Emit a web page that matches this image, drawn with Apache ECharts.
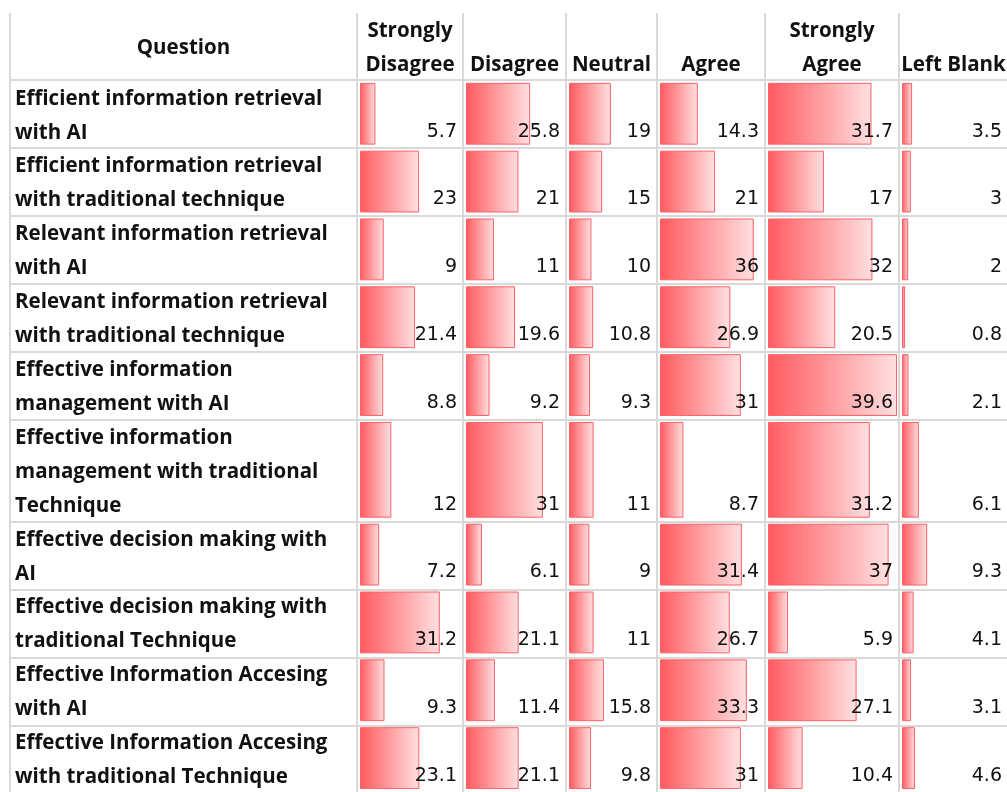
<!DOCTYPE html>
<html>
<head>
<meta charset="utf-8">
<script src="https://cdn.jsdelivr.net/npm/echarts@6/dist/echarts.min.js"></script>
<style>
  html, body { margin: 0; padding: 0; background: #fff; }
  #chart-container { width: 1007px; height: 792px; }
</style>
</head>
<body>
<div id="chart-container"></div>
<script>
// data
var questions = [
  'Efficient information retrieval\nwith AI',
  'Efficient information retrieval\nwith traditional technique',
  'Relevant information retrieval\nwith AI',
  'Relevant information retrieval\nwith traditional technique',
  'Effective information\nmanagement with AI',
  'Effective information\nmanagement with traditional\nTechnique',
  'Effective decision making with\nAI',
  'Effective decision making with\ntraditional Technique',
  'Effective Information Accesing\nwith AI',
  'Effective Information Accesing\nwith traditional Technique'
];
var columnNames = ['Strongly\nDisagree', 'Disagree', 'Neutral', 'Agree', 'Strongly\nAgree', 'Left Blank'];
var stronglyDisagree = [5.7, 23, 9, 21.4, 8.8, 12, 7.2, 31.2, 9.3, 23.1];
var disagree = [25.8, 21, 11, 19.6, 9.2, 31, 6.1, 21.1, 11.4, 21.1];
var neutral = [19, 15, 10, 10.8, 9.3, 11, 9, 11, 15.8, 9.8];
var agree = [14.3, 21, 36, 26.9, 31, 8.7, 31.4, 26.7, 33.3, 31];
var stronglyAgree = [31.7, 17, 32, 20.5, 39.6, 31.2, 37, 5.9, 27.1, 10.4];
var leftBlank = [3.5, 3, 2, 0.8, 2.1, 6.1, 9.3, 4.1, 3.1, 4.6];

var columns = [stronglyDisagree, disagree, neutral, agree, stronglyAgree, leftBlank];

// layout
var LINE = 34, TOP = 12, HEADER_LINES = 2;
var colEdges = [10, 357, 463, 566, 657, 765, 899, 1008];
var textFont = 'bold 20.5px "Open Sans"';
var numFont = '19px "DejaVu Sans"';
var lineColor = '#d9d9d9';

// row line ranges (in text-line units)
var rowStart = [], rowEnd = [];
var acc = HEADER_LINES;
questions.forEach(function (q) {
  rowStart.push(acc);
  acc += q.split('\n').length;
  rowEnd.push(acc);
});
var totalLines = acc;

// one scale for the whole range, like the sheet's data bars
var barMax = Math.max.apply(null, [].concat.apply([], columns));

var dom = document.getElementById('chart-container');
var myChart = echarts.init(dom, null, { renderer: 'canvas' });

var grids = [], xAxes = [], yAxes = [], series = [];

// question column
grids.push({ left: colEdges[0], width: colEdges[1] - colEdges[0], top: TOP, height: totalLines * LINE });
xAxes.push({ type: 'value', gridIndex: 0, min: 0, max: 1, show: false });
yAxes.push({ type: 'value', gridIndex: 0, min: 0, max: totalLines, inverse: true, show: false });
series.push({
  type: 'custom',
  xAxisIndex: 0,
  yAxisIndex: 0,
  clip: false,
  silent: true,
  data: questions.map(function (q, i) { return [0, rowStart[i], rowEnd[i], i]; }),
  renderItem: function (params, api) {
    var p = api.coord([0, api.value(1)]);
    return {
      type: 'text',
      style: {
        x: p[0] + 5,
        y: p[1] + 2,
        text: questions[api.value(3)],
        font: textFont,
        fill: '#111',
        lineHeight: LINE,
        verticalAlign: 'top',
        align: 'left'
      }
    };
  }
});

// data-bar columns
columns.forEach(function (vals, c) {
  var gi = c + 1;
  grids.push({
    left: colEdges[gi] + 3,
    width: colEdges[gi + 1] - colEdges[gi] - 6,
    top: TOP,
    height: totalLines * LINE
  });
  xAxes.push({ type: 'value', gridIndex: gi, min: 0, max: barMax, show: false });
  yAxes.push({ type: 'value', gridIndex: gi, min: 0, max: totalLines, inverse: true, show: false });
  series.push({
    type: 'custom',
    xAxisIndex: gi,
    yAxisIndex: gi,
    clip: false,
    silent: true,
    data: vals.map(function (v, i) { return [v, rowStart[i], rowEnd[i]]; }),
    renderItem: function (params, api) {
      var p0 = api.coord([0, api.value(1)]);
      var p1 = api.coord([api.value(0), api.value(2)]);
      var pEnd = api.coord([barMax, api.value(2)]);
      return {
        type: 'group',
        children: [
          {
            type: 'rect',
            shape: { x: p0[0] + 0.5, y: p0[1] + 3.5, width: p1[0] - p0[0], height: p1[1] - p0[1] - 7 },
            style: {
              fill: new echarts.graphic.LinearGradient(0, 0, 1, 0, [
                { offset: 0, color: '#ff5a5f' },
                { offset: 1, color: '#ffe0e1' }
              ]),
              stroke: '#ff6166',
              lineWidth: 1
            }
          },
          {
            type: 'text',
            style: {
              x: pEnd[0] - 3,
              y: p1[1] + 1,
              text: String(api.value(0)),
              font: numFont,
              fill: '#111',
              lineHeight: LINE,
              align: 'right',
              verticalAlign: 'bottom'
            }
          }
        ]
      };
    }
  });
});

// table rules and header text
var graphics = [];
var tableBottom = TOP + totalLines * LINE;
colEdges.forEach(function (x) {
  graphics.push({ type: 'line', silent: true, shape: { x1: x, y1: TOP + 1, x2: x, y2: tableBottom }, style: { stroke: lineColor, lineWidth: 2 } });
});
[HEADER_LINES].concat(rowEnd).forEach(function (l) {
  var y = TOP + l * LINE;
  graphics.push({ type: 'line', silent: true, shape: { x1: colEdges[0], y1: y, x2: colEdges[colEdges.length - 1], y2: y }, style: { stroke: lineColor, lineWidth: 2 } });
});
graphics.push({
  type: 'text', silent: true,
  style: {
    x: (colEdges[0] + colEdges[1]) / 2, y: TOP + HEADER_LINES * LINE / 2 + 2,
    text: 'Question', font: textFont, fill: '#111',
    align: 'center', verticalAlign: 'middle'
  }
});
columnNames.forEach(function (name, c) {
  graphics.push({
    type: 'text', silent: true,
    style: {
      x: (colEdges[c + 1] + colEdges[c + 2]) / 2, y: TOP + HEADER_LINES * LINE + 2,
      text: name, font: textFont, fill: '#111',
      lineHeight: LINE, align: 'center', verticalAlign: 'bottom'
    }
  });
});

var option = {
  backgroundColor: '#fff',
  animation: false,
  grid: grids,
  xAxis: xAxes,
  yAxis: yAxes,
  series: series,
  graphic: graphics
};

myChart.setOption(option);
window.addEventListener('resize', myChart.resize);
</script>
</body>
</html>
